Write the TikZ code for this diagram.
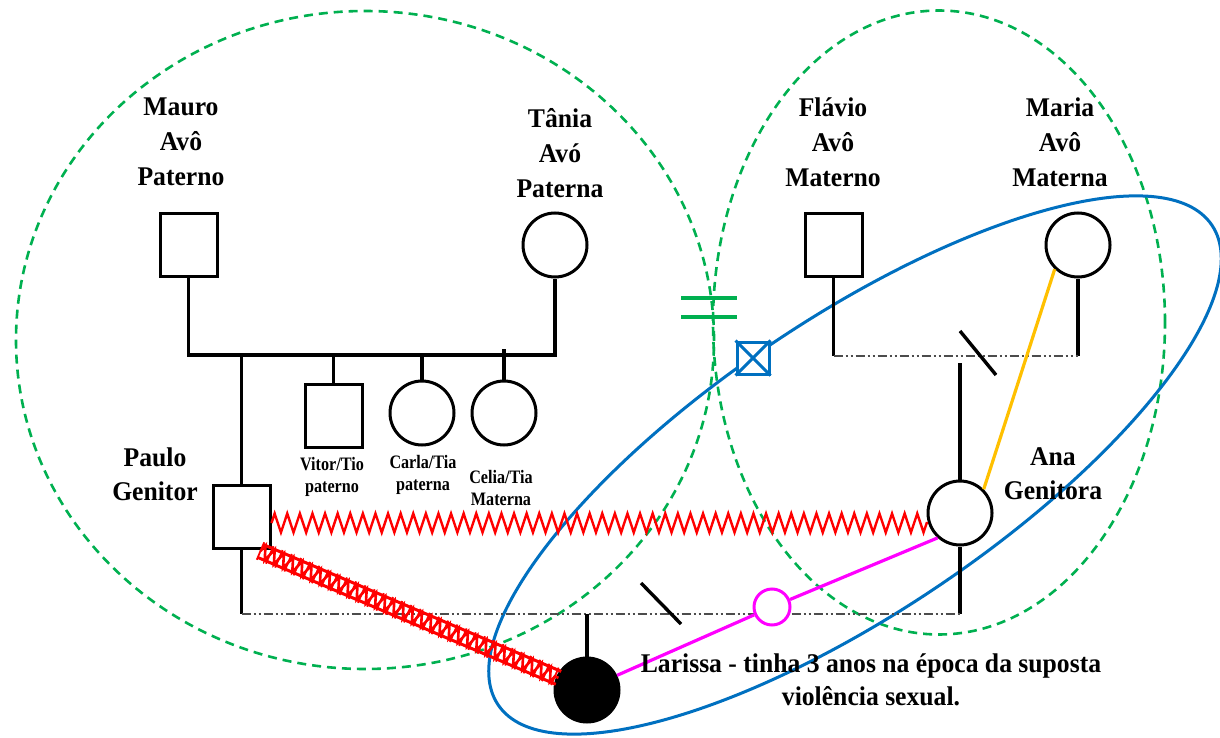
\documentclass[tikz,border=0pt]{standalone}
\usepackage{fontspec}
\setmainfont{Liberation Serif}
\newfontfamily\lblfont[FakeStretch=0.95]{Liberation Serif}
\newfontfamily\smlfont[FakeStretch=0.85]{Liberation Serif}
\usetikzlibrary{calc,decorations.pathmorphing,decorations.pathreplacing}
\definecolor{ggreen}{RGB}{0,176,80}
\definecolor{gblue}{RGB}{0,112,192}
\definecolor{gorange}{RGB}{255,192,0}
\definecolor{gmag}{RGB}{255,0,255}
\definecolor{gred}{RGB}{255,0,0}
\begin{document}
\begin{tikzpicture}[x=1pt,y=-1pt,
 male/.style={draw, rectangle, fill=white, line width=3pt, minimum width=57pt, minimum height=63pt, inner sep=0pt},
 female/.style={draw, circle, fill=white, line width=3pt, minimum size=64pt, inner sep=0pt},
 fam/.style={line width=3.4pt},
 union/.style={line width=2.4pt, gray!60!black, dash pattern=on 9pt off 3pt on 2pt off 3pt on 2pt off 3pt},
 cutmark/.style={line width=3.4pt},
 circ/.style={ggreen, line width=2.6pt, dash pattern=on 9pt off 6pt},
 bigl/.style={font=\lblfont\bfseries\fontsize{27pt}{35pt}\selectfont, align=center, inner sep=0pt},
 midl/.style={font=\lblfont\bfseries\fontsize{27pt}{34pt}\selectfont, align=center, inner sep=0pt},
 larl/.style={font=\lblfont\bfseries\fontsize{27pt}{33pt}\selectfont, align=center, inner sep=0pt},
 smll/.style={font=\smlfont\bfseries\fontsize{19pt}{22pt}\selectfont, align=center, inner sep=0pt},
 redline/.style={gred, line width=3pt},
]
\useasboundingbox (0,0) rectangle (1220,738);
\fill[white] (0,0) rectangle (1220,738);

% emotional/household circles
\draw[circ] (365,340) ellipse [x radius=349pt, y radius=329pt];
\draw[circ] (939,322.5) ellipse [x radius=226pt, y radius=312pt];
\draw[gblue, line width=3pt, shift={(855,465)}, rotate=33.9] (0,0) ellipse [x radius=430pt, y radius=147pt];

% people
\node[male] (mauro) at (188.5,244.5) {};
\node[female] (tania) at (555,245) {};
\node[male] (flavio) at (833.5,244.5) {};
\node[female] (maria) at (1078,245) {};
\node[male] (vitor) at (333.5,416) {};
\node[female] (carla) at (422,413) {};
\node[female] (celia) at (504,413) {};
\node[male] (paulo) at (241.5,517) {};
\node[female] (ana) at (960,513) {};
\node[female, fill=black] (larissa) at (587,690) {};

% bars
\coordinate (pbar) at (0,355);
\coordinate (mbar) at (0,356);
\coordinate (lbar) at (0,614);

\draw[fam] (mauro.south) -- (mauro.south |- pbar) -- (tania.south |- pbar) -- (tania.south);
\draw[fam] (paulo.north) -- (paulo.north |- pbar);
\draw[fam] (vitor.north) -- (vitor.north |- pbar);
\draw[fam] (carla.north) -- (carla.north |- pbar);
\draw[fam] (celia.north) -- ++(0,-31);

\draw[fam] (flavio.south) -- (flavio.south |- mbar);
\draw[fam] (maria.south) -- (maria.south |- mbar);
\draw[union] (flavio.south |- mbar) -- (maria.south |- mbar);
\draw[fam] (ana.north) -- ++(0,-117);

\draw[fam] (paulo.south) -- (paulo.south |- lbar);
\draw[fam] (ana.south) -- (ana.south |- lbar);
\draw[union] (paulo.south |- lbar) -- (ana.south |- lbar);
\draw[fam] (larissa.north) -- (larissa.north |- lbar);

% separation marks
\coordinate (s1a) at (960,331); \coordinate (s1b) at (996,375);
\draw[cutmark] (s1a) -- (s1b);
\coordinate (s2a) at (641,583); \coordinate (s2b) at (681,624);
\draw[cutmark] (s2a) -- (s2b);

% conflict zigzag
\draw[gred, line width=2.4pt, decorate, decoration={zigzag, segment length=12.6pt, amplitude=9.5pt}]
  ($(paulo.east)+(0,6)$) -- ($(ana.west)+(1.5,10)$);

% abuse band
\coordinate (hb) at ($(paulo.south east)+(-11,1)$);
\coordinate (hbe) at ($(larissa)!31pt!(hb)$);
\draw[redline] ($(hb)!7pt!90:(hbe)$) -- ($(hbe)!7pt!-90:(hb)$);
\draw[redline] ($(hb)!7pt!-90:(hbe)$) -- ($(hbe)!7pt!90:(hb)$);
\draw[gred, line width=2.6pt, decorate, decoration={zigzag, segment length=10pt, amplitude=7pt}] (hb) -- (hbe);
\draw[gred, line width=1.8pt, decorate, decoration={ticks, segment length=10pt, amplitude=9.5pt}] (hb) -- (hbe);

% close relation
\node[draw=gmag, circle, fill=white, line width=3pt, minimum size=36pt, inner sep=0pt] (mc) at (772,607) {};
\draw[gmag, line width=3.2pt] (larissa.26) -- (mc);
\draw[gmag, line width=3.2pt] (mc) -- (ana.228);

\draw[gorange, line width=3.2pt] (maria.226) -- (ana.45);

% green double bar
\coordinate (g1a) at (681,298); \coordinate (g1b) at (737,298);
\coordinate (g2a) at (681,317); \coordinate (g2b) at (737,317);
\draw[ggreen, line width=3.6pt] (g1a) -- (g1b) (g2a) -- (g2b);

% blue crossed box
\node[draw=gblue, line width=3pt, minimum size=32pt, inner sep=0pt, fill=white] (sep) at (753,358) {};
\draw[gblue, line width=3pt] (sep.north west) -- (sep.south east) (sep.north east) -- (sep.south west);

% labels
\node[bigl] (lmauro) at (181,142) {Mauro\\Avô\\Paterno};
\node[bigl] (ltania) at (560,153) {Tânia\\Avó\\Paterna};
\node[bigl] (lflavio) at (833,142) {Flávio\\Avô\\Materno};
\node[bigl] (lmaria) at (1060,142) {Maria\\Avô\\Materna};
\node[midl] (lpaulo) at (155,474) {Paulo\\Genitor};
\node[midl] (lana) at (1053,474) {Ana\\Genitora};
\node[smll] (lvitor) at (332,477) {Vitor/Tio\\paterno};
\node[smll] (lcarla) at (423,475) {Carla/Tia\\paterna};
\node[smll] (lcelia) at (501,488) {Celia/Tia\\Materna};
\node[larl] (llar) at (871,680) {Larissa - tinha 3 anos na época da suposta\\violência sexual.};
\end{tikzpicture}
\end{document}
